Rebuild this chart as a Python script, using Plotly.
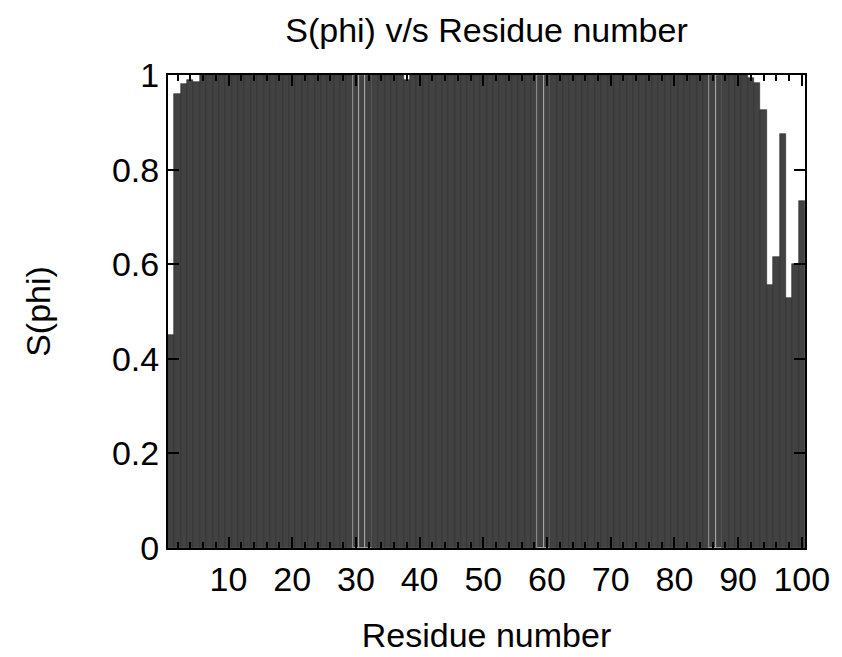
import plotly.graph_objects as go

residues = list(range(1, 101))

s_phi = [
    0.45, 0.96, 0.98, 0.99, 0.985, 1.0, 1.0, 1.0, 1.0, 1.0,      # 1-10
    1.0, 1.0, 1.0, 1.0, 1.0, 1.0, 1.0, 1.0, 1.0, 1.0,            # 11-20
    1.0, 1.0, 1.0, 1.0, 1.0, 1.0, 1.0, 1.0, 1.0, 1.0,            # 21-30
    1.0, 1.0, 1.0, 1.0, 1.0, 1.0, 1.0, 0.99, 1.0, 1.0,           # 31-40
    1.0, 1.0, 1.0, 1.0, 1.0, 1.0, 1.0, 1.0, 1.0, 1.0,            # 41-50
    1.0, 1.0, 1.0, 1.0, 1.0, 1.0, 1.0, 1.0, 1.0, 1.0,            # 51-60
    1.0, 1.0, 1.0, 1.0, 1.0, 1.0, 1.0, 1.0, 1.0, 1.0,            # 61-70
    1.0, 1.0, 1.0, 1.0, 1.0, 1.0, 1.0, 1.0, 1.0, 1.0,            # 71-80
    1.0, 1.0, 1.0, 1.0, 1.0, 1.0, 1.0, 1.0, 1.0, 1.0,            # 81-90
    1.0, 0.993, 0.983, 0.926, 0.556, 0.615, 0.875, 0.528, 0.60, 0.734,  # 91-100
]

x_ticks = [10, 20, 30, 40, 50, 60, 70, 80, 90, 100]
y_ticks = [0, 0.2, 0.4, 0.6, 0.8, 1]
y_tick_labels = ["0", "0.2", "0.4", "0.6", "0.8", "1"]

light_outline = {30, 31, 32, 59, 60, 86, 87}
outline_colors = ["#c8c8c8" if r in light_outline else "#262626" for r in residues]

FONT = "Liberation Sans, Arial, Helvetica, sans-serif"
FS = 34

fig = go.Figure()
fig.add_trace(go.Bar(
    x=residues,
    y=s_phi,
    width=1.0,
    marker=dict(color="#424242", line=dict(color=outline_colors, width=0.6)),
    showlegend=False,
    hoverinfo="x+y",
))

fig.update_layout(
    width=842,
    height=657,
    margin=dict(l=160, r=45, t=67, b=117),
    paper_bgcolor="white",
    plot_bgcolor="white",
    bargap=0,
    font=dict(family=FONT, size=FS, color="black"),
    title=dict(
        text="S(phi) v/s Residue number",
        x=478.5 / 842,
        xanchor="center",
        y=1 - 22 / 657,
        yanchor="middle",
        font=dict(family=FONT, size=FS, color="black"),
    ),
)

fig.update_xaxes(
    range=[0.5, 100.5],
    tickmode="array",
    tickvals=x_ticks,
    ticktext=[str(v) for v in x_ticks],
    ticks="inside",
    ticklen=11,
    tickwidth=1.5,
    tickcolor="black",
    minor=dict(dtick=2, tick0=0, ticks="inside", ticklen=6, tickwidth=1.5, tickcolor="black"),
    showline=True,
    linecolor="black",
    linewidth=2,
    mirror="ticks",
    showgrid=False,
    zeroline=False,
    title=dict(text="Residue number", standoff=26, font=dict(family=FONT, size=FS)),
    tickfont=dict(family=FONT, size=FS),
)

fig.update_yaxes(
    range=[0, 1],
    tickmode="array",
    tickvals=y_ticks,
    ticktext=y_tick_labels,
    ticks="inside",
    ticklen=11,
    tickwidth=1.5,
    tickcolor="black",
    showline=True,
    linecolor="black",
    linewidth=2,
    mirror="ticks",
    showgrid=False,
    zeroline=False,
    title=dict(text="S(phi)", standoff=51, font=dict(family=FONT, size=FS)),
    tickfont=dict(family=FONT, size=FS),
)

fig.write_html("out.html")
